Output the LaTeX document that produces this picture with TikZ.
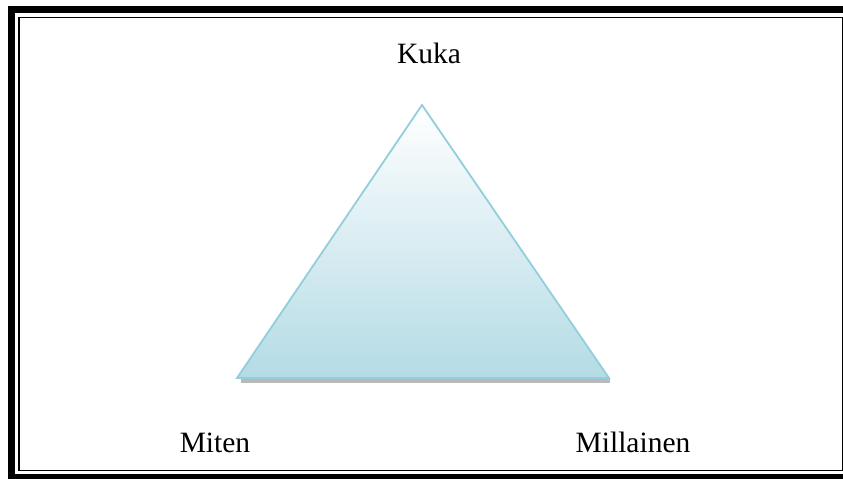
\documentclass[tikz,border=0pt]{standalone}
\usepackage{fontspec}
\setmainfont{Liberation Serif}
\usepackage{xcolor}
\definecolor{triedge}{HTML}{92CEDB}
\definecolor{trifill}{HTML}{B4DBE5}

\begin{document}
\begin{tikzpicture}[
    x=1pt, y=-1pt,
    label/.style={anchor=base, inner sep=0pt, font=\fontsize{29.5}{31}\selectfont},
    frame/.style={draw=black, line width=7pt},
    innerframe/.style={draw=black, line width=1.6pt},
    tri/.style={draw=triedge, line width=1.8pt, line join=miter, top color=white, bottom color=trifill}
]
\useasboundingbox (0,0) rectangle (843,479);
\clip (0,0) rectangle (843,479);

% Double frame
\draw[frame] (11.5,9) rectangle (860,477.5);
\draw[innerframe] (19,17.5) rectangle (843,470.5);

% Triangle corners
\coordinate (top) at (422,105);
\coordinate (left) at (237,378);
\coordinate (right) at (609,378);

% Shadow under the base
\fill[gray!55] (241,379) rectangle (610,382.5);

\draw[tri] (top) -- (right) -- (left) -- cycle;

% Labels
\node[label] (kuka) at (429,63) {Kuka};
\node[label] (miten) at (215,452) {Miten};
\node[label] (millainen) at (633,452) {Millainen};

\end{tikzpicture}
\end{document}
